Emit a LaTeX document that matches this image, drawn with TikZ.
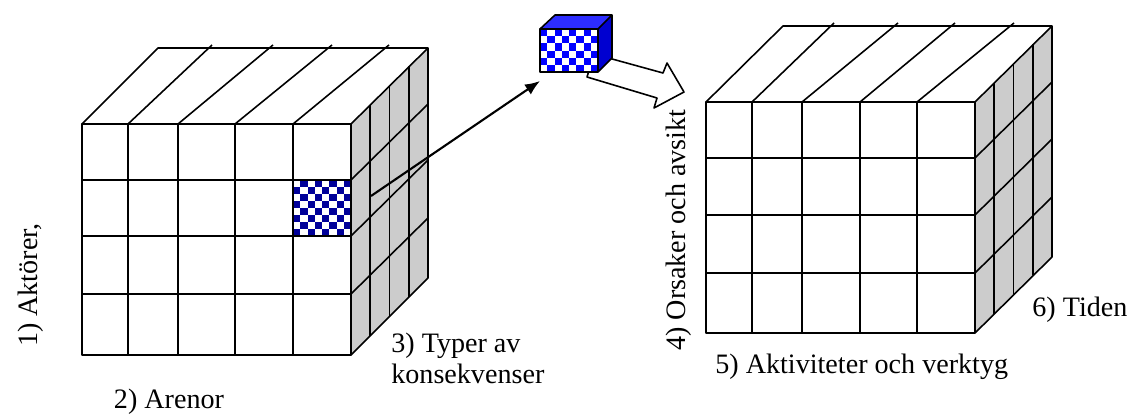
\documentclass[tikz,border=0pt]{standalone}
\usepackage{fontspec}
\setmainfont{Liberation Serif}
\usetikzlibrary{arrows.meta}
\definecolor{sidegray}{RGB}{204,204,204}
\definecolor{cellnavy}{RGB}{0,0,153}
\definecolor{cubeblue}{RGB}{0,0,255}
\definecolor{cubetop}{RGB}{45,45,255}
\definecolor{cubeside}{RGB}{0,0,208}

\begin{document}
\begin{tikzpicture}[x=0.02cm,y=-0.02cm,line join=round]
	\tikzset{grid/.style={line width=0.9pt},
		lbl/.style={font=\fontsize{16}{17.6}\selectfont, inner sep=0pt}}
	\useasboundingbox (0,0) rectangle (1135,416);
	
	% left cube
	\fill[sidegray] (351,124) -- (428,48) -- (428,278) -- (351,355) -- cycle;
	\foreach \i in {0,...,7}
	\foreach \j in {0,...,7}
	{\ifodd\numexpr\i+\j\relax
		\fill[cellnavy] (293+\i*7.25,180+\j*7) rectangle ++(7.25,7);
		\fi}
	\draw[grid] (82,124) rectangle (351,355);
	\draw[grid] (82,124) -- (158,48) -- (428,48) -- (428,278) -- (351,355);
	\draw[grid] (351,124) -- (428,48);
	\foreach \x/\xb in {128/212,178/273,235/332,293/389}
	{\draw[grid] (\x,124) -- (\x,355);
		\draw[grid] (\x,124) -- (\xb,45);}
	\foreach \y in {180,236,294}
	\draw[grid] (82,\y) -- (351,\y) -- ++(77,-76);
	\foreach \d in {19.25,38.5,57.75}
	\draw[grid] (351+\d,124-\d) -- (351+\d,355-\d);
	
	% arrow to the picked cell
	\coordinate (cell) at (371,196);
	\coordinate (piece) at (540,81);
	\draw[line width=1.2pt,-{Latex[length=0.3cm,width=0.24cm]}] (cell) -- (piece);
	
	% hollow arrow and small cube
	\draw[grid,fill=white] (594,54) -- (663,73) -- (667,63) -- (684,92) -- (654,108) -- (657,98) -- (587,77) -- cycle;
	\fill[cubetop] (540,29) -- (555,15) -- (612,15) -- (598,29) -- cycle;
	\fill[cubeside] (598,29) -- (612,15) -- (612,58) -- (598,72) -- cycle;
	\fill[white] (540,29) rectangle (598,72);
	\foreach \i in {0,...,7}
	\foreach \j in {0,...,5}
	{\ifodd\numexpr\i+\j\relax\else
		\fill[cubeblue] (540+\i*7.25,29+\j*7.17) rectangle ++(7.25,7.17);
		\fi}
	\draw[grid] (540,29) rectangle (598,72);
	\draw[grid] (540,29) -- (555,15) -- (612,15) -- (612,58) -- (598,72);
	\draw[grid] (598,29) -- (612,15);
	
	% right cube
	\fill[sidegray] (975,102) -- (1052,26) -- (1052,257) -- (975,333) -- cycle;
	\draw[grid] (706,102) rectangle (975,333);
	\draw[grid] (706,102) -- (783,26) -- (1052,26) -- (1052,257) -- (975,333);
	\draw[grid] (975,102) -- (1052,26);
	\foreach \x/\xb in {752/834,802/898,860/955,917/1014}
	{\draw[grid] (\x,102) -- (\x,333);
		\draw[grid] (\x,102) -- (\xb,23);}
	\foreach \y in {158,215,273}
	\draw[grid] (706,\y) -- (975,\y) -- ++(77,-76);
	\foreach \d in {19.25,38.5,57.75}
	\draw[grid] (975+\d,102-\d) -- (975+\d,333-\d);
	
	% labels
	\node[lbl, rotate=90, anchor=base] (actors) at (37,285) {1) Aktörer,};
	\node[lbl, anchor=base] (arenas) at (169,408) {2) Arenor};
	\node[lbl, anchor=base west, align=left] (types) at (391,383) {3) Typer av\\konsekvenser};
	\node[lbl, rotate=90, anchor=base] (causes) at (685,230) {4) Orsaker och avsikt};
	\node[lbl, anchor=base west] (activities) at (715,373) {5) Aktiviteter och verktyg};
	\node[lbl, anchor=base west] (time) at (1032,316) {6) Tiden};
\end{tikzpicture}
\end{document}
